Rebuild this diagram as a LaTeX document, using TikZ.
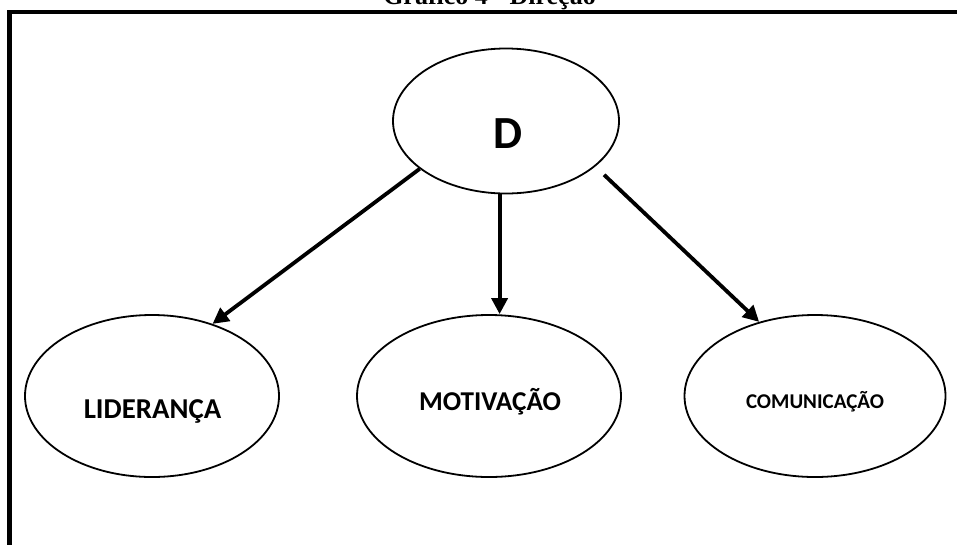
\documentclass[tikz,border=0pt]{standalone}
\usepackage{fontspec}
\setmainfont{Carlito}
\newfontfamily\titlefont{Liberation Serif}
\usetikzlibrary{shapes.geometric,arrows.meta}
\tikzset{
  oval/.style={ellipse,draw,line width=1.8pt,inner sep=0pt},
  lbl/.style={anchor=base,inner sep=0pt,font=\bfseries},
  arr/.style={line width=3.8pt,-{Triangle[length=16pt,width=16pt]}},
}
\begin{document}
\begin{tikzpicture}[x=1pt,y=-1pt]
\useasboundingbox (0,0) rectangle (957,544);
\clip (0,0) rectangle (957,544);
\node[anchor=base,inner sep=0pt,font=\titlefont\bfseries\fontsize{26}{30}\selectfont] (title) at (489.5,4) {Gráfico 4 - Direção};
\draw[line width=4.5pt] (9.5,600) -- (9.5,12) -- (1000,12);
\node[oval,minimum width=226pt,minimum height=145pt] (D) at (506,121) {};
\node[oval,minimum width=254pt,minimum height=162pt] (L) at (152,396) {};
\node[oval,minimum width=264pt,minimum height=162pt] (M) at (489,396) {};
\node[oval,minimum width=261pt,minimum height=162pt] (C) at (815,396) {};
\node[lbl,font=\bfseries\fontsize{46}{52}\selectfont] (Dt) at (508,148) {D};
\node[lbl,font=\bfseries\fontsize{28.8}{32}\selectfont] (Lt) at (152.5,418) {LIDERANÇA};
\node[lbl,font=\bfseries\fontsize{27.2}{30}\selectfont] (Mt) at (490,410) {MOTIVAÇÃO};
\node[lbl,font=\bfseries\fontsize{21}{24}\selectfont] (Ct) at (815,408) {COMUNICAÇÃO};
\draw[arr] (D.209) -- (L.50);
\draw[arr] (D.265) -- (D.265 |- M.north);
\draw[arr,shorten <=12pt] (D.333) -- (C.127);
\end{tikzpicture}
\end{document}
